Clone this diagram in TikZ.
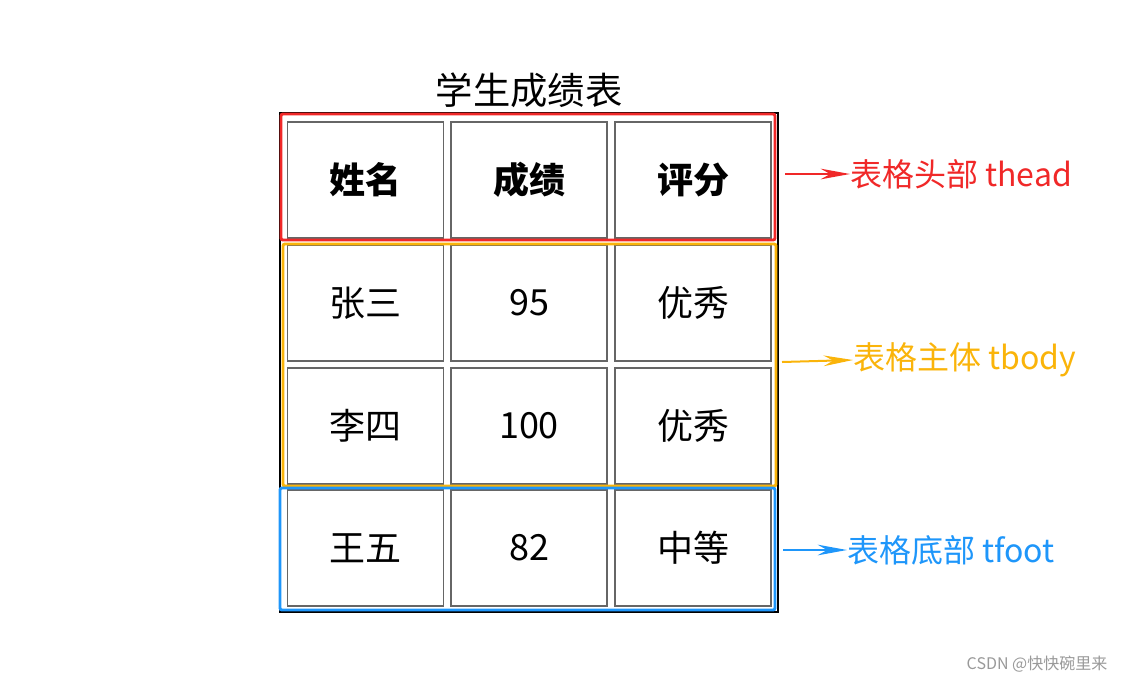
\documentclass[tikz,border=0pt]{standalone}
\usepackage{fontspec}
\setmainfont{Noto Sans CJK SC}
\usetikzlibrary{positioning, arrows.meta}
\definecolor{headred}{RGB}{240,40,40}
\definecolor{bodyorange}{RGB}{250,180,10}
\definecolor{footblue}{RGB}{30,150,250}
\tikzset{
    cellbox/.style={draw=black!60, line width=0.9pt, minimum width=117pt, minimum height=87pt, inner sep=0pt, font=\fontsize{27}{30}\selectfont},
    partbox/.style={line width=2.2pt, rounded corners=1.5pt},
    partlabel/.style={anchor=west, inner sep=0pt, font=\fontsize{24}{28}\selectfont},
    partarrow/.style={line width=1.5pt, -{Stealth[length=22pt, width=8pt]}}
}
\begin{document}
\begin{tikzpicture}[x=0.75pt, y=-0.75pt]
    \useasboundingbox (0,0) rectangle (1138,683);
    % outer table border
    \draw [line width=1.2pt] (280,113) rectangle (778,612);
    % cells
    \foreach \row/\y/\a/\b/\c in {1/180/\textbf{姓名}/\textbf{成绩}/\textbf{评分}, 2/303/张三/95/优秀, 3/426/李四/100/优秀, 4/548/王五/82/中等} {
        \node (c\row a) [cellbox] at (365.5,\y) {\a};
        \node (c\row b) [cellbox] at (529,\y) {\b};
        \node (c\row c) [cellbox] at (693,\y) {\c};
    }
    % title
    \node (title) at (529,90) [font=\fontsize{28}{32}\selectfont] {学生成绩表};
    % parts
    \draw [partbox, headred] (281,114) rectangle (775,240);
    \draw [partbox, bodyorange] (283,244) rectangle (776,486);
    \draw [partbox, footblue] (280,488) rectangle (775,610);
    % labels
    \node (thead) [partlabel, text=headred] at (850,174) {表格头部 thead};
    \node (tbody) [partlabel, text=bodyorange] at (853,360) {表格主体 tbody};
    \node (tfoot) [partlabel, text=footblue] at (847,550) {表格底部 tfoot};
    \coordinate (hstart) at (785,174);
    \coordinate (bstart) at (782,362);
    \coordinate (fstart) at (783,550);
    \draw [partarrow, headred] (hstart) -- (thead.west);
    \draw [partarrow, bodyorange] (bstart) -- (tbody.west);
    \draw [partarrow, footblue] (fstart) -- (tfoot.west);
    % watermark
    \node (mark) at (1037,664) [text=black!40, font=\fontsize{12}{14}\selectfont] {CSDN @快快碗里来};
\end{tikzpicture}
\end{document}
